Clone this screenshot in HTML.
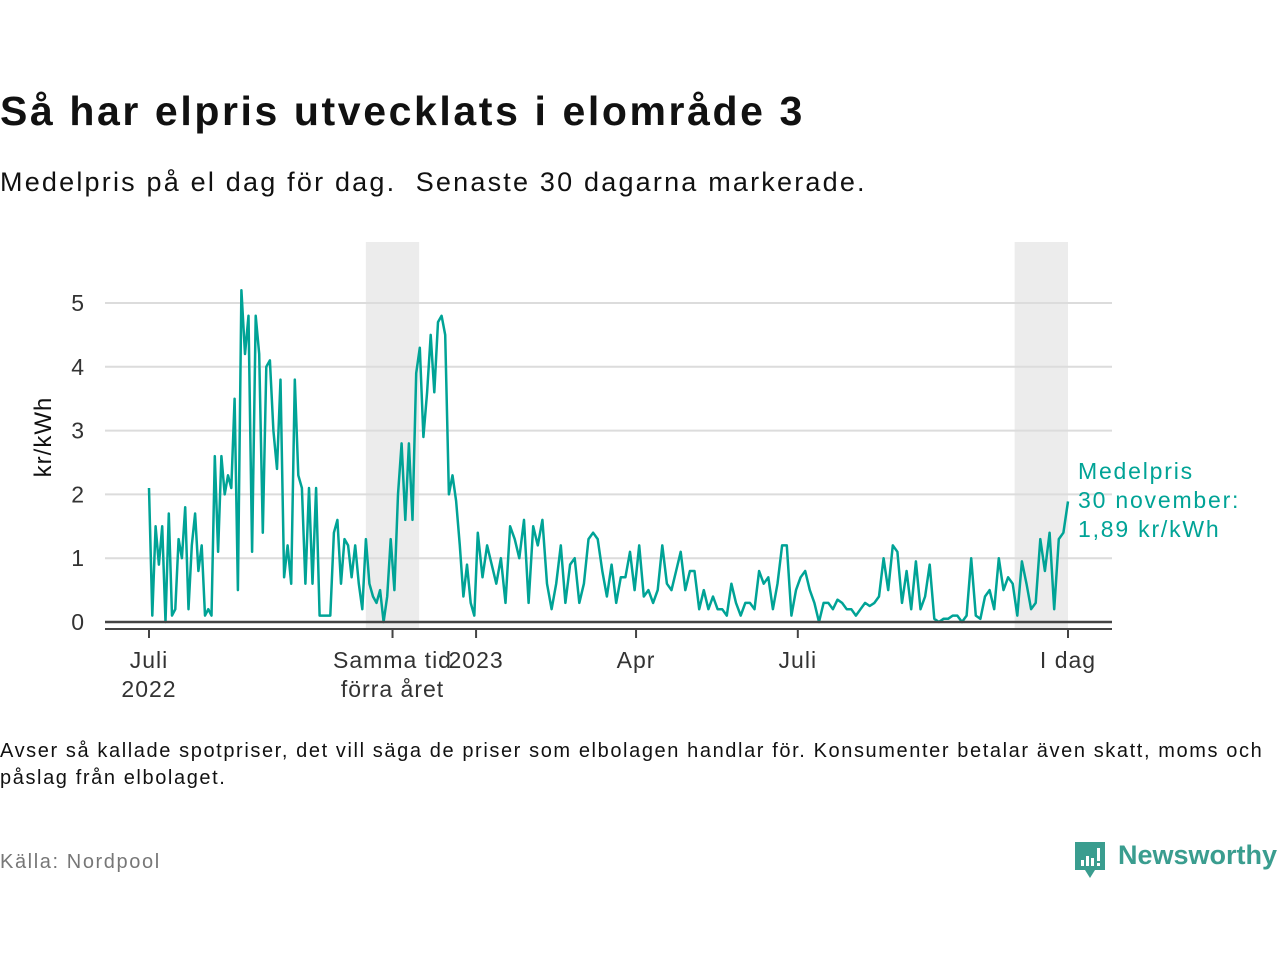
<!DOCTYPE html>
<html><head><meta charset="utf-8"><style>
body{margin:0;width:1280px;height:960px;background:#fff;font-family:"Liberation Sans","DejaVu Sans",sans-serif;overflow:hidden;position:relative}
.t{position:absolute;white-space:nowrap}
</style></head><body>
<div class="t" style="left:0;top:88px;font-size:41px;font-weight:bold;color:#111;letter-spacing:2.6px">Så har elpris utvecklats i elområde 3</div>
<div class="t" style="left:0;top:167px;font-size:27px;color:#111;letter-spacing:2.2px">Medelpris på el dag för dag.&nbsp; Senaste 30 dagarna markerade.</div>
<svg id="chart" width="1280" height="720" style="position:absolute;left:0;top:0">
<g id="bands"></g><g id="grid"></g><g id="series"></g><g id="axes"></g>
</svg>
<div class="t" style="left:0;top:738px;font-size:20px;color:#111;line-height:27px;letter-spacing:1.6px">Avser så kallade spotpriser, det vill säga de priser som elbolagen handlar för. Konsumenter betalar även skatt, moms och<br>påslag från elbolaget.</div>
<div class="t" style="left:0;top:851px;font-size:20px;color:#777;letter-spacing:1.6px">Källa: Nordpool</div>
<div style="position:absolute;left:1073px;top:840px;width:210px;height:40px">
<svg width="36" height="42" style="position:absolute;left:0;top:0"><path d="M2 2H32V30H22L17 38L12 30H2Z" fill="#3a9d8f"/><rect x="8" y="20" width="3" height="6" fill="#fff"/><rect x="13" y="16" width="3" height="10" fill="#fff"/><rect x="18" y="18" width="3" height="8" fill="#fff"/><rect x="24" y="8" width="3" height="13" fill="#fff"/><rect x="24" y="23" width="3" height="3" fill="#fff"/></svg>
<div class="t" style="left:45px;top:0;font-size:27px;font-weight:bold;color:#3a9d8f">Newsworthy</div>
</div>
<script>
const yTicks=[0,1,2,3,4,5];
const xTickDays=[0,137,184,274,365,517];
const xTickLabels=[["Juli","2022"],["Samma tid","förra året"],["2023"],["Apr"],["Juli"],["I dag"]];
const bandDays=[[122,152],[487,517]];
const segStart=[0,52,100,136,185];
const segEnd=[50,96,134,183,517];
const segA=[2.1,0.1,1.5,0.9,1.5,0.0,1.7,0.1,0.2,1.3,1.0,1.8,0.2,1.2,1.7,0.8,1.2,0.1,0.2,0.1,2.6,1.1,2.6,2.0,2.3,2.1,3.5,0.5];
const segB=[5.2,4.2,4.8,1.1,4.8,4.2,1.4,4.0,4.1,3.0,2.4,3.8,0.7,1.2,0.6,3.8,2.3,2.1,0.6,2.1,0.6,2.1,0.1];
const segC=[0.1,0.1,1.4,1.6,0.6,1.3,1.2,0.7,1.2,0.6,0.2,1.3,0.6,0.4,0.3,0.5,0.0,0.4];
const segD=[1.3,0.5,2.0,2.8,1.6,2.8,1.6,3.9,4.3,2.9,3.6,4.5,3.6,4.7,4.8,4.5,2.0,2.3,1.9,1.2,0.4,0.9,0.3,0.1];
const segE=[1.4,0.7,1.2,0.9,0.6,1.0,0.3,1.5,1.3,1.0,1.6,0.3,1.5,1.2,1.6,0.6,0.2,0.6,1.2,0.3,0.9,1.0,0.3,0.6,1.3,1.4,1.3,0.8,0.4,0.9,0.3,0.7,0.7,1.1,0.5,1.2,0.4,0.5,0.3,0.5,1.2,0.6,0.5,0.8,1.1,0.5,0.8,0.8,0.2,0.5,0.2,0.4,0.2,0.2,0.1,0.6,0.3,0.1,0.3,0.3,0.2,0.8,0.6,0.7,0.2,0.6,1.2,1.2,0.1,0.5,0.7,0.8,0.5,0.3,0.0,0.3,0.3,0.2,0.35,0.3,0.2,0.2,0.1,0.2,0.3,0.25,0.3,0.4,1.0,0.5,1.2,1.1,0.3,0.8,0.2,0.95,0.2,0.4,0.9,0.05,0.0,0.05,0.05,0.1,0.1,0.0,0.1,1.0,0.1,0.05,0.4,0.5,0.2,1.0,0.5,0.7,0.6,0.1,0.95,0.6,0.2,0.3,1.3,0.8,1.4,0.2,1.3,1.4,1.89];
const segs=[segA,segB,segC,segD,segE];
const NS="http://www.w3.org/2000/svg";
const X0=149,PXD=919/517,Y0=622,PXU=63.8;
function xs(d){return X0+d*PXD}
function ys(v){return Y0-v*PXU}
function mk(tag,at,parent){const e=document.createElementNS(NS,tag);for(const k in at)e.setAttribute(k,at[k]);document.getElementById(parent).appendChild(e);return e}
bandDays.forEach(b=>{const r=mk('rect',{x:xs(b[0]),y:242,width:xs(b[1])-xs(b[0]),height:386,fill:'#ececec'},'bands');

});
yTicks.forEach(v=>{if(v>0){const l=mk('line',{x1:105,x2:1112,y1:ys(v),y2:ys(v),stroke:'#dcdcdc','stroke-width':2},'grid');

}
const t=mk('text',{x:84,y:ys(v)+8,'text-anchor':'end','font-size':23,fill:'#333'},'axes');t.textContent=v;

});
const pts=[];segs.forEach((s,i)=>{s.forEach((v,j)=>{const d=segStart[i]+(segEnd[i]-segStart[i])*j/(s.length-1);pts.push(xs(d).toFixed(1)+','+ys(v).toFixed(1));});});
const pl=mk('polyline',{points:pts.join(' '),fill:'none',stroke:'#00a396','stroke-width':2.5,'stroke-linejoin':'round'},'series');


mk('line',{x1:105,x2:1112,y1:622,y2:622,stroke:'#444','stroke-width':2.5},'axes');
mk('line',{x1:105,x2:1112,y1:629,y2:629,stroke:'#444','stroke-width':2},'axes');
xTickDays.forEach((d,i)=>{mk('line',{x1:xs(d),x2:xs(d),y1:629,y2:638,stroke:'#444','stroke-width':2},'axes');
xTickLabels[i].forEach((s,k)=>{const t=mk('text',{x:xs(d),y:668+k*29,'text-anchor':'middle','font-size':23,fill:'#333','letter-spacing':'1px'},'axes');t.textContent=s;

});});
const yl=mk('text',{x:0,y:0,transform:'translate(51,437) rotate(-90)','text-anchor':'middle','font-size':24,fill:'#111','letter-spacing':'1px'},'axes');yl.textContent='kr/kWh';


['Medelpris','30 november:','1,89 kr/kWh'].forEach((s,k)=>{const t=mk('text',{x:1078,y:479+k*29,'font-size':23,fill:'#00a396','letter-spacing':'1.8px'},'axes');t.textContent=s;

});
</script>
</body></html>
